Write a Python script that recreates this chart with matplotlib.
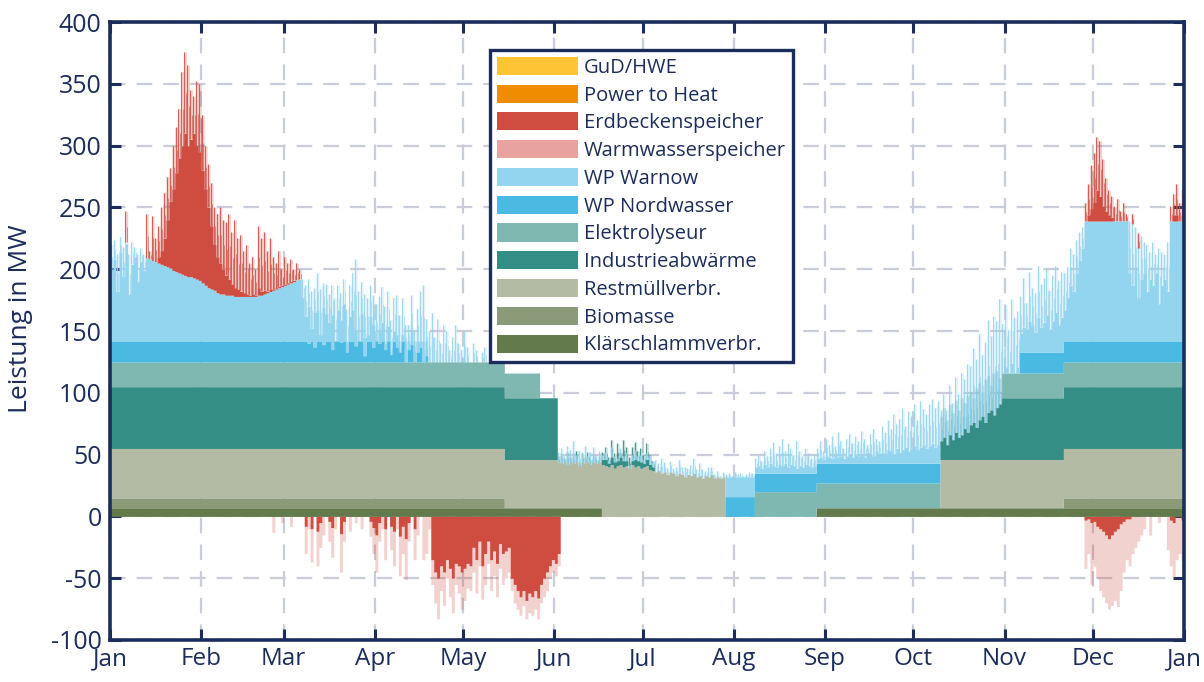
import numpy as np
import matplotlib.pyplot as plt
from matplotlib.patches import Patch

plt.rcParams['font.family'] = ['Open Sans', 'DejaVu Sans']
plt.rcParams['axes.unicode_minus'] = False

n_days = 365
month_start = [0, 31, 59, 90, 120, 151, 181, 212, 243, 273, 304, 334, 365]
month_label = ["Jan", "Feb", "Mar", "Apr", "May", "Jun", "Jul", "Aug", "Sep", "Oct", "Nov", "Dec", "Jan"]

# block values as (start day, MW) - the value holds until the next start day
klaer_steps = [(0, 7), (167, 0), (240, 7)]
bio_steps = [(0, 8), (134, 0), (324, 8)]
rest_steps = [(0, 40), (134, 39), (209, 0), (282, 39), (324, 40)]
indus_steps = [(0, 50), (152, 0), (303, 50)]
elektro_steps = [(0, 20), (146, 0), (219, 20), (282, 0), (303, 20)]
nord_steps = [(0, 17), (108, 0), (209, 16), (219, 15), (240, 16), (282, 0), (309, 17)]
warnow_steps = [(0, 0), (331, 97), (346, 0), (360, 97)]

# daily values: (first day, values)
rest_summer = (152, [37, 36, 37, 35, 37, 36, 37, 34, 37, 36, 37, 35, 37, 36, 37,
                     42, 41, 40, 42, 39, 41, 42, 40, 41, 39, 42, 40, 41, 39, 40, 41, 38,
                     37, 36, 37, 35, 36, 34, 36, 35, 33, 35, 34, 32, 34, 33, 35, 32, 33,
                     31, 33, 32, 34, 31, 32, 31, 32])

indus_summer_core = (167, [4, 5, 3, 6, 5, 4, 6, 5, 4, 0, 3, 6, 4, 5, 3, 5, 4, 3])
indus_summer_peak = (152, [5, 8, 3, 10, 4, 6, 9, 3, 7, 5, 8, 4, 6, 3, 5,
                           10, 15, 8, 20, 12, 18, 10, 22, 15, 9, 14, 20, 12, 16, 10, 18, 12, 8])
indus_oct_core = (282, [15, 18, 12, 20, 16, 22, 18, 20, 25, 22, 28, 30, 26, 32, 35, 30, 38, 40, 36, 42, 45])
indus_oct_peak = (282, [35, 42, 32, 45, 38, 48, 40, 50, 46, 52, 55, 50, 58, 62, 55, 65, 68, 60, 70, 72, 66])

nord_spring_core = (60, [17, 17, 17, 17, 17, 17, 17, 15, 17, 12, 17, 17, 14, 17, 17, 10, 17, 17, 16, 17,
                         8, 17, 17, 13, 17, 17, 5, 17, 17, 12, 17, 15, 17, 10, 17, 6, 17, 12, 8, 17,
                         0, 10, 14, 0, 8, 12, 0, 5])

warnow_core = [
    (0, [58, 66, 40, 72, 52, 78, 38, 62, 68, 48, 64, 57]),
    (12, [67, 66, 65, 64, 63, 62, 61, 60, 59, 57, 56, 55, 54, 53, 52, 52, 51, 50, 49, 47,
          45, 43, 42, 41, 39, 38, 38, 37, 37, 37, 36, 36, 36, 36, 36, 36, 36, 36, 37, 37,
          38, 39, 40, 41, 42, 43, 44, 45, 46, 47, 48, 49, 50]),
    (65, [35, 20, 30, 10, 28, 25, 5, 30, 22, 15, 28, 0, 25, 18, 30, 8, 20, 25, 12, 0,
          22, 15, 5, 20, 18, 0, 10, 15, 5, 12, 0, 8, 10, 0, 5]),
    (100, [10, 5, 12, 0, 8, 5, 10, 0]),
    (209, [16, 16, 16, 16, 16, 16, 16, 16, 16, 16]),
    (219, [5, 6, 4, 7, 5, 8, 6, 5, 7, 6, 8, 5, 7, 6, 4, 6, 5, 7, 6, 5, 6]),
    (240, [4, 5, 3, 6, 5, 4, 7, 5, 6, 4, 6, 8, 5, 7, 6, 8, 5, 9, 7, 6,
           10, 8, 9, 7, 11, 10, 8, 12, 9, 11, 13, 10, 12, 14, 11, 13, 15, 12, 14, 16, 13, 15]),
    (303, [0, 5, 0, 8, 0, 5]),
    (309, [15, 20, 18, 25, 22, 16, 28, 20, 24, 30, 18, 25, 32, 22, 28]),
    (324, [25, 35, 45, 40, 55, 65, 75]),
    (346, [55, 45, 60, 35, 50, 55, 40, 50, 45, 55, 30, 45, 50, 40]),
]
warnow_peak = [
    (0, [78, 82, 70, 84, 76, 80, 70, 80, 76, 70, 75, 70]),
    (12, warnow_core[1][1]),
    (65, [50, 45, 52, 40, 48, 55, 42, 50, 46, 38, 52, 35, 45, 40, 50, 35, 45, 55, 70, 40,
          48, 50, 35, 45, 42, 30, 38, 44, 35, 40, 28, 35, 42, 30, 35]),
    (100, [30, 20, 40, 25, 35, 45, 62, 30, 25, 40, 20, 35, 15, 30, 25, 10, 20, 30, 15, 10,
           25, 12, 0, 15, 10, 0, 8, 12, 0, 5, 0, 0, 0]),
    (152, [8, 12, 5, 15, 10, 18, 6, 12, 8, 14, 5, 10, 12, 6, 9,
           4, 6, 3, 8, 5, 2, 7, 4, 6, 3, 5, 8, 4, 6, 3, 5, 7, 4,
           10, 6, 12, 8, 5, 9, 4, 7, 11, 6, 8, 5, 9, 12, 6, 10, 7, 4, 8, 6, 3, 5, 2, 4]),
    (209, [18, 19, 17, 20, 18, 19, 17, 18, 20, 19]),
    (219, [12, 15, 10, 18, 14, 20, 25, 16, 22, 28, 18, 24, 20, 15, 26, 18, 14, 20, 16, 12, 15]),
    (240, [12, 18, 10, 20, 15, 22, 14, 25, 18, 12, 20, 24, 16, 22, 18, 26, 20, 15, 24, 28,
           20, 18, 30, 25, 35, 28, 40, 32, 36, 45, 30, 42, 38, 48, 35, 50, 44, 40, 48, 52, 45, 50]),
    (282, [25, 35, 28, 40, 30, 45, 35, 50, 40, 55, 48, 60, 55, 70, 50, 65, 75, 60, 80, 70, 85]),
    (303, [40, 55, 35, 60, 45, 50]),
    (309, [45, 60, 40, 65, 52, 48, 70, 55, 60, 68, 50, 62, 70, 58, 65]),
    (324, [55, 60, 75, 70, 82, 88, 92]),
    (346, [97, 95, 92, 75, 85, 80, 78, 72, 80, 70, 75, 72, 70, 80]),
]

# Erdbeckenspeicher discharge (above the heat pumps)
erd_pos_core = [
    (12, [0, 0, 0, 0, 5, 11, 22, 38, 54, 66, 80, 93, 104, 115, 106, 111, 117, 108, 104, 91,
          78, 65, 51, 37, 29, 25, 20, 16, 13, 9, 7, 6, 4, 3, 2, 1, 2, 1, 6, 3,
          3, 1, 2, 1, 1, 1, 1, 1, 1, 1, 1, 0, 0]),
    (331, [0, 5, 10, 15, 25, 20, 12, 8, 5, 3]),
    (360, [0, 5, 5, 0, 5]),
]
erd_pos_peak = [
    (5, [25]),
    (12, [36, 7, 36, 19, 30, 46, 59, 73, 81, 101, 117, 133, 164, 181, 171, 151, 147, 160, 159, 136,
          113, 100, 86, 67, 64, 70, 60, 59, 66, 51, 62, 47, 50, 37, 42, 27, 32, 22, 56, 46,
          50, 34, 43, 27, 21, 30, 14, 23, 17, 19, 10, 14, 8]),
    (331, [15, 30, 45, 55, 68, 65, 50, 35, 25, 20, 12, 18, 8, 15, 6, 0, 8, 0, 12]),
    (360, [12, 22, 30, 15, 25]),
]

# Erdbeckenspeicher charging (drawn below zero)
erd_neg_core = [
    (66, [8, 0, 10, 0, 12, 5, 0, 0, 4, 9, 0, 0, 14, 4, 0, 0]),
    (88, [4, 9, 15, 5, 0, 10, 0]),
    (95, [8, 12, 0, 16, 8, 18, 5, 0, 10, 0]),
    (109, [35, 45, 50, 40, 45, 35, 42, 50, 38, 40, 45, 42, 38, 40]),
    (123, [25, 35, 20, 40, 30, 20, 35, 28, 38, 22, 30, 28, 25]),
    (136, [50, 55, 60, 65, 60, 68, 62, 65, 60, 66, 55, 50, 45, 40, 35, 38, 30]),
    (331, [3, 2, 5, 4, 8, 10, 12, 15, 18, 15, 12, 10, 6, 4, 2, 2]),
    (359, [0, 3, 5, 0, 0, 3]),
]
erd_neg_peak = [
    (55, [13, 0, 0, 5, 0, 0, 8, 0, 0, 0, 0]),
    (66, [30, 10, 37, 0, 40, 25, 15, 0, 20, 33, 10, 0, 45, 20, 0, 12]),
    (82, [0, 5, 0, 10, 0, 0]),
    (88, [16, 30, 45, 20, 10, 35, 0]),
    (95, [27, 40, 10, 48, 30, 51, 20, 0, 35, 15]),
    (105, [0, 35, 30, 10]),
    (109, [55, 70, 83, 60, 72, 50, 65, 78, 55, 62, 75, 68, 58, 60]),
    (123, [45, 62, 40, 67, 55, 38, 60, 48, 65, 42, 55, 50, 45]),
    (136, [60, 70, 75, 80, 72, 83, 78, 80, 75, 83, 70, 65, 60, 50, 45, 48, 40]),
    (331, [42, 30, 55, 40, 50, 60, 65, 70, 75, 72, 68, 73, 60, 45, 35, 40, 30, 25, 20, 15]),
    (351, [10, 0, 15, 0, 0, 5, 0, 0]),
    (359, [27, 40, 50, 35, 30, 35]),
]

names = ["GuD/HWE", "Power to Heat", "Erdbeckenspeicher", "Warmwasserspeicher", "WP Warnow",
         "WP Nordwasser", "Elektrolyseur", "Industrieabwärme", "Restmüllverbr.", "Biomasse",
         "Klärschlammverbr."]
colors = ["#fdc535", "#ef8c00", "#cf4c40", "#e8a3a0", "#93d4ef", "#4bbae3", "#7fb8b1",
          "#348e85", "#b3bba5", "#8b9a78", "#637a4c"]
col = dict(zip(names, colors))
navy = "#1b2d5b"


def steps(pairs):
    out = np.zeros(n_days)
    ends = [p[0] for p in pairs[1:]] + [n_days]
    for (d0, v), d1 in zip(pairs, ends):
        out[d0:d1] = v
    return out


def put(base, segments):
    out = base.copy()
    for d0, vals in segments:
        out[d0:d0 + len(vals)] = vals
    return out


zero = np.zeros(n_days)
klaer = steps(klaer_steps)
bio = steps(bio_steps)
rest = put(steps(rest_steps), [rest_summer])
indus_c = put(steps(indus_steps), [indus_summer_core, indus_oct_core])
indus_p = put(steps(indus_steps), [indus_summer_peak, indus_oct_peak])
elektro = steps(elektro_steps)
nord_p = steps(nord_steps)
nord_c = put(nord_p, [nord_spring_core])
warn_c = put(steps(warnow_steps), warnow_core)
warn_p = put(steps(warnow_steps), warnow_peak)
ep_c = put(zero, erd_pos_core)
ep_p = put(zero, erd_pos_peak)
en_c = put(zero, erd_neg_core)
en_p = put(zero, erd_neg_peak)

stack = [("Klärschlammverbr.", klaer, klaer), ("Biomasse", bio, bio), ("Restmüllverbr.", rest, rest),
         ("Industrieabwärme", indus_c, indus_p), ("Elektrolyseur", elektro, elektro),
         ("WP Nordwasser", nord_c, nord_p), ("WP Warnow", warn_c, warn_p)]

fig = plt.figure(figsize=(12.04, 6.82), dpi=100)
ax = fig.add_axes([0.0914, 0.0616, 0.892, 0.906])
x = np.arange(n_days + 1)
xm = np.arange(n_days) + 0.5


def ext(a):
    return np.append(a, a[-1])


def band(lo, core, peak, c):
    # solid part plus thin faded spikes above it
    ax.fill_between(x, ext(lo + core), ext(lo + peak), step="post", color=c, alpha=0.25, lw=0, zorder=1)
    m = peak > core
    ax.vlines(xm[m] - 0.25, (lo + core)[m], (lo + peak)[m], color=c, lw=0.8, alpha=0.85, zorder=1)
    ax.vlines(xm[m] + 0.25, (lo + core)[m], (lo + 0.5 * core + 0.5 * peak)[m], color=c, lw=0.7,
              alpha=0.6, zorder=1)
    ax.fill_between(x, ext(lo), ext(lo + core), step="post", color=c, lw=0, zorder=2)


bottom = zero.copy()
for name, core, peak in stack:
    band(bottom, core, peak, col[name])
    bottom = bottom + core

band(bottom - warn_c + warn_p, ep_c, ep_p, col["Erdbeckenspeicher"])
band(zero, -en_c, -en_p, col["Erdbeckenspeicher"])

ax.set_xlim(0, 365)
ax.set_ylim(-100, 400)
ax.set_xticks(month_start)
ax.set_xticklabels(month_label)
ax.set_yticks(np.arange(-100, 401, 50))
ax.grid(True, color="#c9cdd9", lw=1.6, ls=(0, (7, 5)), zorder=0)
ax.set_axisbelow(True)
ax.tick_params(direction="in", length=8, width=2.2, top=True, right=True, color=navy,
               labelcolor=navy, labelsize=18)
ax.tick_params(axis="x", pad=5, labelsize=17.5)
ax.tick_params(axis="y", pad=6)
for s in ax.spines.values():
    s.set_color(navy)
    s.set_linewidth(2.6)
ax.set_ylabel("Leistung in MW", color=navy, fontsize=19)
ax.yaxis.set_label_coords(-0.072, 0.52)

handles = [Patch(facecolor=c, edgecolor="none") for c in colors]
leg = ax.legend(handles, names, loc="upper left", bbox_to_anchor=(0.354, 0.955), fontsize=14.5,
                handlelength=4.0, handleheight=1.0, labelspacing=0.34, handletextpad=0.3,
                borderpad=0.35, borderaxespad=0, fancybox=False, framealpha=1, edgecolor=navy)
leg.get_frame().set_linewidth(2.4)
for t in leg.get_texts():
    t.set_color(navy)
leg.set_zorder(5)

fig.savefig("out.png", dpi=100)
